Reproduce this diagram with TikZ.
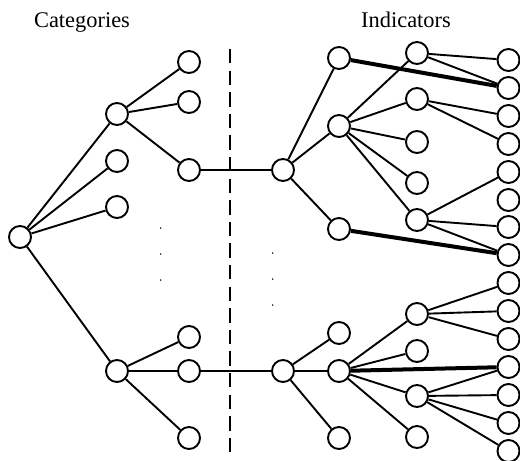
\documentclass[tikz,border=0pt]{standalone}
\usepackage{fontspec}
\setmainfont{Liberation Serif}
\usepackage{tikz}
\usetikzlibrary{positioning}

\tikzset{
  vertex/.style={circle,draw,fill=white,inner sep=0pt,minimum size=11pt,line width=0.95pt},
  heavy/.style={line width=2pt},
  divider/.style={line width=1pt,dash pattern=on 7.2pt off 3.6pt},
  heading/.style={anchor=base,font=\fontsize{11.2}{13}\selectfont}
}

\begin{document}
\begin{tikzpicture}[x=0.5pt, y=-0.5pt, line width=0.95pt]
  \useasboundingbox (0,0) rectangle (520,461);
  \node[heading] (cattitle) at (82,27) {Categories};
  \node[heading] (indtitle) at (406,27) {Indicators};
  % separating line and ellipsis dots
  \draw[divider] (230,49) -- (230,456);
  \fill (160.7,228) circle (0.4pt) (160.7,254) circle (0.4pt) (160.7,280) circle (0.4pt);
  \fill (272.7,253) circle (0.4pt) (272.7,279) circle (0.4pt) (272.7,305) circle (0.4pt);
  % category tree
  \node[vertex] (root) at (20,237) {};
  \node[vertex] (cat1) at (117,114) {};
  \node[vertex] (cat2) at (117,161) {};
  \node[vertex] (cat3) at (117,207) {};
  \node[vertex] (cat4) at (117,371) {};
  \node[vertex] (sub1) at (189,62) {};
  \node[vertex] (sub2) at (189,102) {};
  \node[vertex] (sub3) at (189,170) {};
  \node[vertex] (sub4) at (189,337) {};
  \node[vertex] (sub5) at (189,371) {};
  \node[vertex] (sub6) at (189,438) {};
  % indicator tree, upper part
  \node[vertex] (ind1) at (283,170) {};
  \node[vertex] (up1) at (339,58) {};
  \node[vertex] (up2) at (339,126) {};
  \node[vertex] (up3) at (339,229) {};
  \node[vertex] (mid1) at (417,53) {};
  \node[vertex] (mid2) at (417,99) {};
  \node[vertex] (mid3) at (417,142) {};
  \node[vertex] (mid4) at (417,183) {};
  \node[vertex] (mid5) at (417,220) {};
  % indicator tree, lower part
  \node[vertex] (ind2) at (283,371) {};
  \node[vertex] (lo1) at (339,333) {};
  \node[vertex] (lo2) at (339,371) {};
  \node[vertex] (lo3) at (339,438) {};
  \node[vertex] (bot1) at (417,314) {};
  \node[vertex] (bot2) at (417,351) {};
  \node[vertex] (bot3) at (417,396) {};
  \node[vertex] (bot4) at (417,437) {};
  % leaf column
  \node[vertex] (leaf1) at (508.5,60) {};
  \node[vertex] (leaf2) at (508.5,88) {};
  \node[vertex] (leaf3) at (508.5,116) {};
  \node[vertex] (leaf4) at (508.5,144) {};
  \node[vertex] (leaf5) at (508.5,172) {};
  \node[vertex] (leaf6) at (508.5,200) {};
  \node[vertex] (leaf7) at (508.5,227) {};
  \node[vertex] (leaf8) at (508.5,255) {};
  \node[vertex] (leaf9) at (508.5,283) {};
  \node[vertex] (leaf10) at (508.5,311) {};
  \node[vertex] (leaf11) at (508.5,339) {};
  \node[vertex] (leaf12) at (508.5,367) {};
  \node[vertex] (leaf13) at (508.5,395) {};
  \node[vertex] (leaf14) at (508.5,423) {};
  \node[vertex] (leaf15) at (508.5,451) {};
  % edges
  \draw (root) -- (cat1) (root) -- (cat2) (root) -- (cat3) (root) -- (cat4);
  \draw (cat1) -- (sub1) (cat1) -- (sub2) (cat1) -- (sub3);
  \draw (cat4) -- (sub4) (cat4) -- (sub5) (cat4) -- (sub6);
  \draw (sub3) -- (ind1) (sub5) -- (ind2);
  \draw (ind1) -- (up1) (ind1) -- (up2) (ind1) -- (up3);
  \draw (up2) -- (mid1) (up2) -- (mid2) (up2) -- (mid3) (up2) -- (mid4) (up2) -- (mid5);
  \draw (mid1) -- (leaf1) (mid1) -- (leaf2) (mid2) -- (leaf3) (mid2) -- (leaf4);
  \draw (mid5) -- (leaf5) (mid5) -- (leaf7) (mid5) -- (leaf8);
  \draw (ind2) -- (lo1) (ind2) -- (lo2) (ind2) -- (lo3);
  \draw (lo2) -- (bot1) (lo2) -- (bot2) (lo2) -- (bot3) (lo2) -- (bot4);
  \draw (bot1) -- (leaf9) (bot1) -- (leaf10) (bot1) -- (leaf11);
  \draw (bot3) -- (leaf12) (bot3) -- (leaf13) (bot3) -- (leaf14) (bot3) -- (leaf15);
  \draw[heavy] (up1) -- (leaf2) (up3) -- (leaf8) (lo2) -- (leaf12);
\end{tikzpicture}
\end{document}
